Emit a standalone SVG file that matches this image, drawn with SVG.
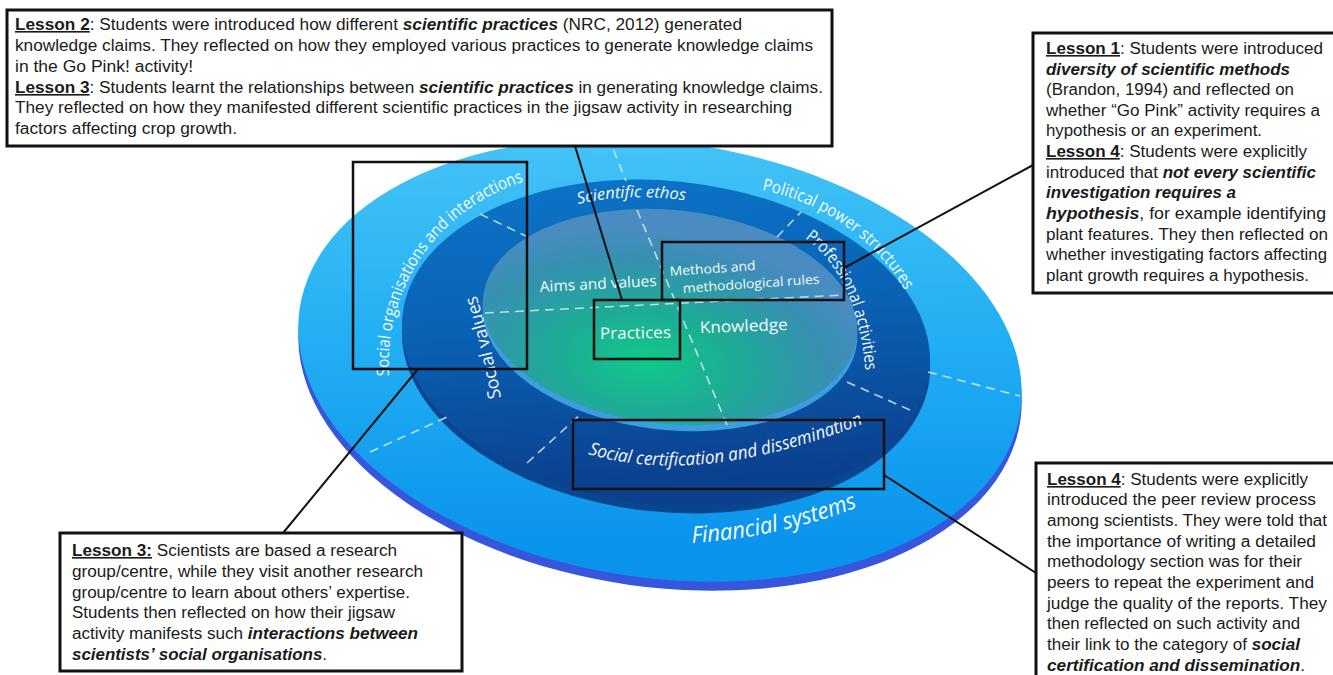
<svg xmlns="http://www.w3.org/2000/svg" width="1333" height="675" viewBox="0 0 1333 675">
  <defs>
    <style>
      .note { fill: #ffffff; stroke: #111111; stroke-width: 3; }
      .mark { fill: none; stroke: #111111; stroke-width: 2.5; }
      .link { stroke: #111111; stroke-width: 2; fill: none; }
      .div  { stroke: #d6ecf6; stroke-width: 1.6; stroke-dasharray: 9 6; fill: none; opacity: 0.85; }
      .t    { font-family: "Liberation Sans", Arial, sans-serif; font-size: 16px; fill: #1a1a1a; }
      .h    { font-weight: bold; text-decoration: underline; }
      .bi   { font-weight: bold; font-style: italic; }
      .lbl  { font-family: "Open Sans", "Noto Sans", sans-serif; fill: #ffffff; opacity: 0.96; }
      .it   { font-style: italic; }
    </style>
    <linearGradient id="gOuter" x1="0" y1="0" x2="0.25" y2="1">
      <stop offset="0" stop-color="#4cc8f7"/>
      <stop offset="0.55" stop-color="#22aef3"/>
      <stop offset="1" stop-color="#0a93ec"/>
    </linearGradient>
    <linearGradient id="gMiddle" x1="0" y1="0" x2="0.3" y2="1">
      <stop offset="0" stop-color="#0c78cb"/>
      <stop offset="0.5" stop-color="#0a62b5"/>
      <stop offset="1" stop-color="#0b408e"/>
    </linearGradient>
    <radialGradient id="gInner" cx="0.45" cy="0.72" r="0.62">
      <stop offset="0" stop-color="#10c888"/>
      <stop offset="0.38" stop-color="#1dac96"/>
      <stop offset="0.78" stop-color="#3790b2"/>
      <stop offset="1" stop-color="#4a8cc2"/>
    </radialGradient>
    <!-- baselines for the curved ring labels -->
    <path id="pSocOrg" d="M 389 376 C 384 285, 440 203, 538 177"/>
    <path id="pPolit" d="M 762 190 C 815 200, 875 235, 908 296"/>
    <path id="pFin" d="M 692 543 Q 780 538 866 504"/>
    <path id="pEthos" d="M 578 204 Q 630 192 690 201"/>
    <path id="pSocVal" d="M 501 398 C 492 350, 484 320, 472 280"/>
    <path id="pProf" d="M 805 238 C 835 260, 860 300, 866 376"/>
    <path id="pCert" d="M 588 454 Q 700 488 868 422"/>
  </defs>

  <rect width="1333" height="675" fill="#ffffff"/>

  <!-- layered disc: outer ring, middle ring, inner core -->
  <g id="disc">
    <ellipse cx="660" cy="369" rx="364" ry="218" transform="rotate(8 660 369)" fill="#3656dc"/>
    <ellipse cx="660" cy="360" rx="364" ry="218" transform="rotate(8 660 360)" fill="url(#gOuter)"/>
    <ellipse cx="666" cy="350" rx="265" ry="162" transform="rotate(6 666 350)" fill="#0a4590"/>
    <ellipse cx="666" cy="343" rx="265" ry="162" transform="rotate(6 666 343)" fill="url(#gMiddle)"/>
    <ellipse cx="670" cy="323" rx="188" ry="107" transform="rotate(6 670 323)" fill="#3a9ee0"/>
    <ellipse cx="670" cy="317" rx="188" ry="107" transform="rotate(6 670 317)" fill="url(#gInner)"/>

    <!-- sector dividers -->
    <line class="div" x1="608" y1="136" x2="626" y2="181"/>
    <line class="div" x1="928" y1="372" x2="1020" y2="396"/>
    <line class="div" x1="370" y1="452" x2="447" y2="417"/>
    <line class="div" x1="480" y1="214" x2="528" y2="237"/>
    <line class="div" x1="777" y1="237" x2="801" y2="212"/>
    <line class="div" x1="847" y1="382" x2="910" y2="410"/>
    <line class="div" x1="527" y1="463" x2="582" y2="413"/>
    <line class="div" x1="485" y1="313" x2="843" y2="295"/>
    <line class="div" x1="637" y1="210" x2="727" y2="425"/>

    <!-- ring labels -->
    <text class="lbl" font-size="17"><textPath href="#pSocOrg" textLength="255" lengthAdjust="spacingAndGlyphs">Social organisations and interactions</textPath></text>
    <text class="lbl" font-size="17"><textPath href="#pPolit" textLength="180" lengthAdjust="spacingAndGlyphs">Political power structures</textPath></text>
    <text class="lbl it" font-size="23"><textPath href="#pFin" textLength="170" lengthAdjust="spacingAndGlyphs">Financial systems</textPath></text>
    <text class="lbl it" font-size="16"><textPath href="#pEthos" textLength="108" lengthAdjust="spacingAndGlyphs">Scientific ethos</textPath></text>
    <text class="lbl" font-size="18"><textPath href="#pSocVal" textLength="106" lengthAdjust="spacingAndGlyphs">Social values</textPath></text>
    <text class="lbl" font-size="17"><textPath href="#pProf" textLength="150" lengthAdjust="spacingAndGlyphs">Professional activities</textPath></text>
    <text class="lbl it" font-size="18"><textPath href="#pCert" textLength="282" lengthAdjust="spacingAndGlyphs">Social certification and dissemination</textPath></text>

    <!-- core labels -->
    <text class="lbl" font-size="15" x="540" y="292" textLength="117" lengthAdjust="spacingAndGlyphs" transform="rotate(-3 540 292)">Aims and values</text>
    <text class="lbl" font-size="13" x="670" y="276" textLength="86" lengthAdjust="spacingAndGlyphs" transform="rotate(-4 670 276)">Methods and</text>
    <text class="lbl" font-size="13" x="683" y="293" textLength="137" lengthAdjust="spacingAndGlyphs" transform="rotate(-4 683 293)">methodological rules</text>
    <text class="lbl" font-size="16" x="600" y="339" textLength="71" lengthAdjust="spacingAndGlyphs" transform="rotate(-1 600 339)">Practices</text>
    <text class="lbl" font-size="16" x="700" y="333" textLength="88" lengthAdjust="spacingAndGlyphs" transform="rotate(-2 700 333)">Knowledge</text>
  </g>

  <!-- highlighted regions of the disc -->
  <g id="highlights">
    <rect id="hl-social-org" class="mark" x="353" y="162" width="174" height="207"/>
    <rect id="hl-practices" class="mark" x="594" y="300" width="86" height="59"/>
    <rect id="hl-methods" class="mark" x="662" y="242" width="182" height="58"/>
    <rect id="hl-certification" class="mark" x="573" y="420" width="311" height="69"/>
  </g>

  <!-- leader lines from highlights to notes -->
  <g id="connectors">
    <line class="link" x1="575" y1="146" x2="622" y2="300"/>
    <line class="link" x1="844" y1="268" x2="1033" y2="165"/>
    <line class="link" x1="418" y1="369" x2="283" y2="533"/>
    <line class="link" x1="884" y1="475" x2="1036" y2="573"/>
  </g>

  <!-- note: lessons 2 and 3 (practices) -->
  <g id="note-practices">
    <rect class="note" x="7" y="10" width="825" height="136"/>
    <text class="t" x="15" y="30" textLength="727" lengthAdjust="spacingAndGlyphs"><tspan class="h">Lesson 2</tspan>: Students were introduced how different <tspan class="bi">scientific  practices</tspan> (NRC, 2012) generated</text>
    <text class="t" x="15" y="51" textLength="798" lengthAdjust="spacingAndGlyphs">knowledge claims. They reflected on how they employed various practices to generate knowledge claims</text>
    <text class="t" x="15" y="72" textLength="178" lengthAdjust="spacingAndGlyphs">in the Go Pink! activity!</text>
    <text class="t" x="15" y="93" textLength="808" lengthAdjust="spacingAndGlyphs"><tspan class="h">Lesson 3</tspan>: Students learnt the relationships between <tspan class="bi">scientific  practices</tspan> in generating knowledge claims.</text>
    <text class="t" x="15" y="113" textLength="777" lengthAdjust="spacingAndGlyphs">They reflected on how they manifested different scientific practices in the jigsaw activity in researching</text>
    <text class="t" x="15" y="134" textLength="222" lengthAdjust="spacingAndGlyphs">factors affecting crop growth.</text>
  </g>

  <!-- note: lessons 1 and 4 (methods) -->
  <g id="note-methods">
    <rect class="note" x="1033" y="33" width="310" height="260"/>
    <text class="t" x="1046" y="54" textLength="277" lengthAdjust="spacingAndGlyphs"><tspan class="h">Lesson 1</tspan>: Students were introduced</text>
    <text class="t" x="1046" y="75" textLength="244" lengthAdjust="spacingAndGlyphs"><tspan class="bi">diversity  of scientific  methods</tspan></text>
    <text class="t" x="1046" y="95" textLength="248" lengthAdjust="spacingAndGlyphs">(Brandon, 1994) and reflected on</text>
    <text class="t" x="1046" y="116" textLength="274" lengthAdjust="spacingAndGlyphs">whether “Go Pink” activity requires a</text>
    <text class="t" x="1046" y="136" textLength="216" lengthAdjust="spacingAndGlyphs">hypothesis or an experiment.</text>
    <text class="t" x="1046" y="157" textLength="261" lengthAdjust="spacingAndGlyphs"><tspan class="h">Lesson 4</tspan>: Students were explicitly</text>
    <text class="t" x="1046" y="178" textLength="270" lengthAdjust="spacingAndGlyphs">introduced that <tspan class="bi">not every scientific</tspan></text>
    <text class="t" x="1046" y="198" textLength="190" lengthAdjust="spacingAndGlyphs"><tspan class="bi">investigation  requires a</tspan></text>
    <text class="t" x="1046" y="219" textLength="280" lengthAdjust="spacingAndGlyphs"><tspan class="bi">hypothesis</tspan>,  for example identifying</text>
    <text class="t" x="1046" y="240" textLength="282" lengthAdjust="spacingAndGlyphs">plant features. They then reflected on</text>
    <text class="t" x="1046" y="260" textLength="281" lengthAdjust="spacingAndGlyphs">whether investigating factors affecting</text>
    <text class="t" x="1046" y="281" textLength="263" lengthAdjust="spacingAndGlyphs">plant growth requires a hypothesis.</text>
  </g>

  <!-- note: lesson 3 (social organisations) -->
  <g id="note-social-org">
    <rect class="note" x="60" y="533" width="402" height="138"/>
    <text class="t" x="72" y="556" textLength="325" lengthAdjust="spacingAndGlyphs"><tspan class="h">Lesson 3:</tspan> Scientists are based a research</text>
    <text class="t" x="72" y="577" textLength="351" lengthAdjust="spacingAndGlyphs">group/centre, while they visit another research</text>
    <text class="t" x="72" y="598" textLength="338" lengthAdjust="spacingAndGlyphs">group/centre to learn about others’ expertise.</text>
    <text class="t" x="72" y="618" textLength="323" lengthAdjust="spacingAndGlyphs">Students then reflected on how their jigsaw</text>
    <text class="t" x="72" y="639" textLength="346" lengthAdjust="spacingAndGlyphs">activity manifests such <tspan class="bi">interactions  between</tspan></text>
    <text class="t" x="72" y="660" textLength="255" lengthAdjust="spacingAndGlyphs"><tspan class="bi">scientists’ social  organisations</tspan>.</text>
  </g>

  <!-- note: lesson 4 (social certification) -->
  <g id="note-certification">
    <rect class="note" x="1036" y="463" width="310" height="230"/>
    <text class="t" x="1047" y="485" textLength="261" lengthAdjust="spacingAndGlyphs"><tspan class="h">Lesson 4</tspan>: Students were explicitly</text>
    <text class="t" x="1047" y="505" textLength="269" lengthAdjust="spacingAndGlyphs">introduced the peer review process</text>
    <text class="t" x="1047" y="526" textLength="280" lengthAdjust="spacingAndGlyphs">among scientists. They were told that</text>
    <text class="t" x="1047" y="547" textLength="269" lengthAdjust="spacingAndGlyphs">the importance of writing a detailed</text>
    <text class="t" x="1047" y="567" textLength="255" lengthAdjust="spacingAndGlyphs">methodology section was for their</text>
    <text class="t" x="1047" y="588" textLength="267" lengthAdjust="spacingAndGlyphs">peers to repeat the experiment and</text>
    <text class="t" x="1047" y="609" textLength="280" lengthAdjust="spacingAndGlyphs">judge the quality of the reports. They</text>
    <text class="t" x="1047" y="629" textLength="253" lengthAdjust="spacingAndGlyphs">then reflected on such activity and</text>
    <text class="t" x="1047" y="650" textLength="253" lengthAdjust="spacingAndGlyphs">their link to the category of <tspan class="bi">social</tspan></text>
    <text class="t" x="1047" y="671" textLength="258" lengthAdjust="spacingAndGlyphs"><tspan class="bi">certification  and dissemination</tspan>.</text>
  </g>
</svg>
